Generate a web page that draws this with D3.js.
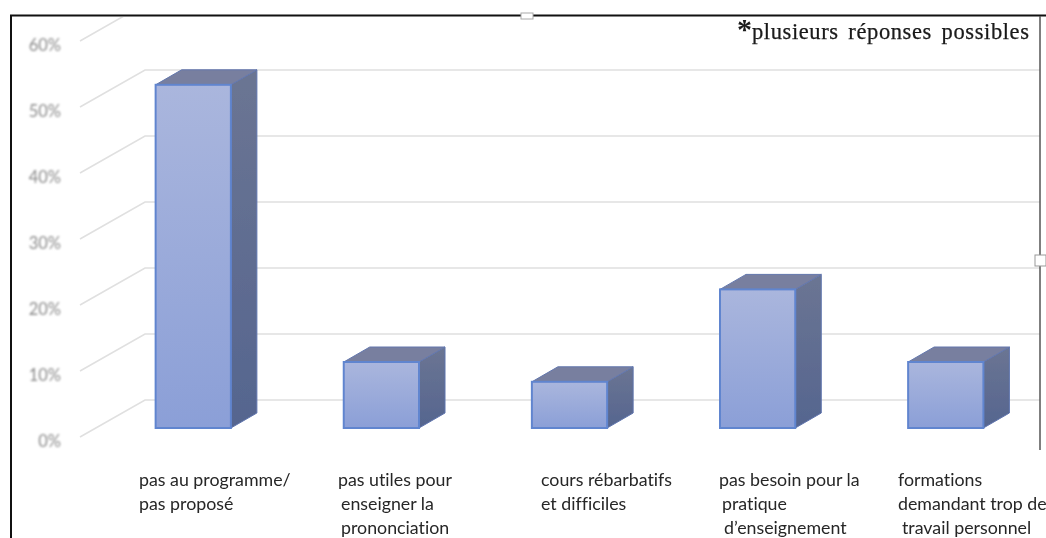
<!DOCTYPE html>
<html lang="fr"><head><meta charset="utf-8">
<script src="https://cdn.jsdelivr.net/npm/d3@7"></script>
<style>html,body{margin:0;padding:0;background:#fff}svg{display:block}text{font-variant-ligatures:none}</style></head>
<body><svg id="c" width="1046" height="538"></svg>
<script>
const categories = ["c1","c2","c3","c4","c5"];
const values = [52,10,7,21,10];
const categoryLines = [
  ["pas au programme/","pas proposé"],
  ["pas utiles pour","enseigner la","prononciation"],
  ["cours rébarbatifs","et difficiles"],
  ["pas besoin pour la","pratique","d’enseignement"],
  ["formations","demandant trop de","travail personnel"]
];
const tickValues = [0,10,20,30,40,50,60];
const note = "plusieurs réponses possibles";

const W=1046,H=538, DX=26, DY=-15;
const labelLeft=[[139,139],[338,341,341],[541,541],[719,722,724],[898,898,902]];
const svg=d3.select("#c");
const defs=svg.append("defs");
function grad(id,a,b){const g=defs.append("linearGradient").attr("id",id).attr("x1",0).attr("y1",0).attr("x2",0).attr("y2",1);
  g.append("stop").attr("offset","0%").attr("stop-color",a);g.append("stop").attr("offset","100%").attr("stop-color",b);}
grad("front","#aab6dd","#8b9fd7");grad("side","#6b7593","#55658f");
defs.append("filter").attr("id","soft").append("feGaussianBlur").attr("stdDeviation",0.9);
defs.append("filter").attr("id","soft2").append("feGaussianBlur").attr("stdDeviation",0.45);
defs.append("clipPath").attr("id","plot").append("rect").attr("x",12).attr("y",17).attr("width",1028).attr("height",500);

const x=d3.scaleBand().domain(categories).range([118,1021]).paddingInner(0.6).paddingOuter(0.2);
const y=d3.scaleLinear().domain([0,60]).range([428,32]);

// gridlines: floor-to-wall diagonal then along the back wall
const grid=svg.append("g").attr("clip-path","url(#plot)").attr("filter","url(#soft2)");
grid.selectAll("path").data(tickValues).join("path")
  .attr("fill","none").attr("stroke","#e0e0e0").attr("stroke-width",1.6)
  .attr("d",d=>{const p=d3.path();const f=y(d)+9;p.moveTo(80,f);p.lineTo(145,f-37);p.lineTo(1040,f-37);return p.toString();});

// value axis
const axis=svg.append("g").attr("transform","translate(61,13)").attr("filter","url(#soft)")
  .call(d3.axisLeft(y).tickValues(tickValues).tickSize(0).tickPadding(0).tickFormat(d=>d+"%"));
axis.select(".domain").remove();
axis.selectAll("text").attr("font-family","Lato, sans-serif").attr("font-size",16.5).attr("fill","#8a8a8a");

// bars
const bars=svg.append("g").attr("filter","url(#soft2)").selectAll("g").data(values).join("g");
const bw=x.bandwidth();
const pts=a=>a.map(p=>p.join(",")).join(" ");
bars.append("polygon").attr("fill","url(#side)").attr("stroke","#5f74ad").attr("stroke-width",1)
  .attr("points",(d,i)=>{const l=x(categories[i])+bw,t=y(d),b=y(0);return pts([[l,t],[l+DX,t+DY],[l+DX,b+DY],[l,b]]);});
bars.append("polygon").attr("fill","#787f9f").attr("stroke","#6377ad").attr("stroke-width",1)
  .attr("points",(d,i)=>{const l=x(categories[i]),t=y(d);return pts([[l,t],[l+DX,t+DY],[l+bw+DX,t+DY],[l+bw,t]]);});
bars.append("rect").attr("fill","url(#front)").attr("stroke","#6185cf").attr("stroke-width",2)
  .attr("x",(d,i)=>x(categories[i])).attr("width",bw).attr("y",d=>y(d)).attr("height",d=>y(0)-y(d));

// category labels
const lab=svg.append("g").attr("filter","url(#soft2)");
categoryLines.forEach((lines,i)=>{
  lines.forEach((s,j)=>{
    lab.append("text").attr("x",labelLeft[i][j]).attr("y",486+j*24)
      .attr("font-family","Lato, sans-serif").attr("font-size",17.8).attr("fill","#262626").text(s);
  });
});

// frame
const frame=svg.append("g");
frame.append("path").attr("fill","none").attr("stroke","#111").attr("stroke-width",2).attr("d","M11,538V15.5H1046");
frame.append("line").attr("x1",1040).attr("x2",1040).attr("y1",16).attr("y2",450).attr("stroke","#555").attr("stroke-width",1.5);
frame.append("rect").attr("x",521).attr("y",13).attr("width",12).attr("height",6).attr("fill","#fff").attr("stroke","#aaa");
frame.append("rect").attr("x",1035).attr("y",255).attr("width",11).attr("height",11).attr("fill","#fff").attr("stroke","#999");

// note
const n=svg.append("text").attr("x",737).attr("y",39).attr("font-family","'Liberation Serif', serif").attr("fill","#1a1a1a").attr("filter","url(#soft2)");
n.append("tspan").attr("font-size",30).attr("font-weight","bold").text("*");
n.append("tspan").attr("font-size",22.5).attr("stroke","#1a1a1a").attr("stroke-width",0.25).attr("letter-spacing",0.6).attr("word-spacing",3.5).text(note);
</script></body></html>
